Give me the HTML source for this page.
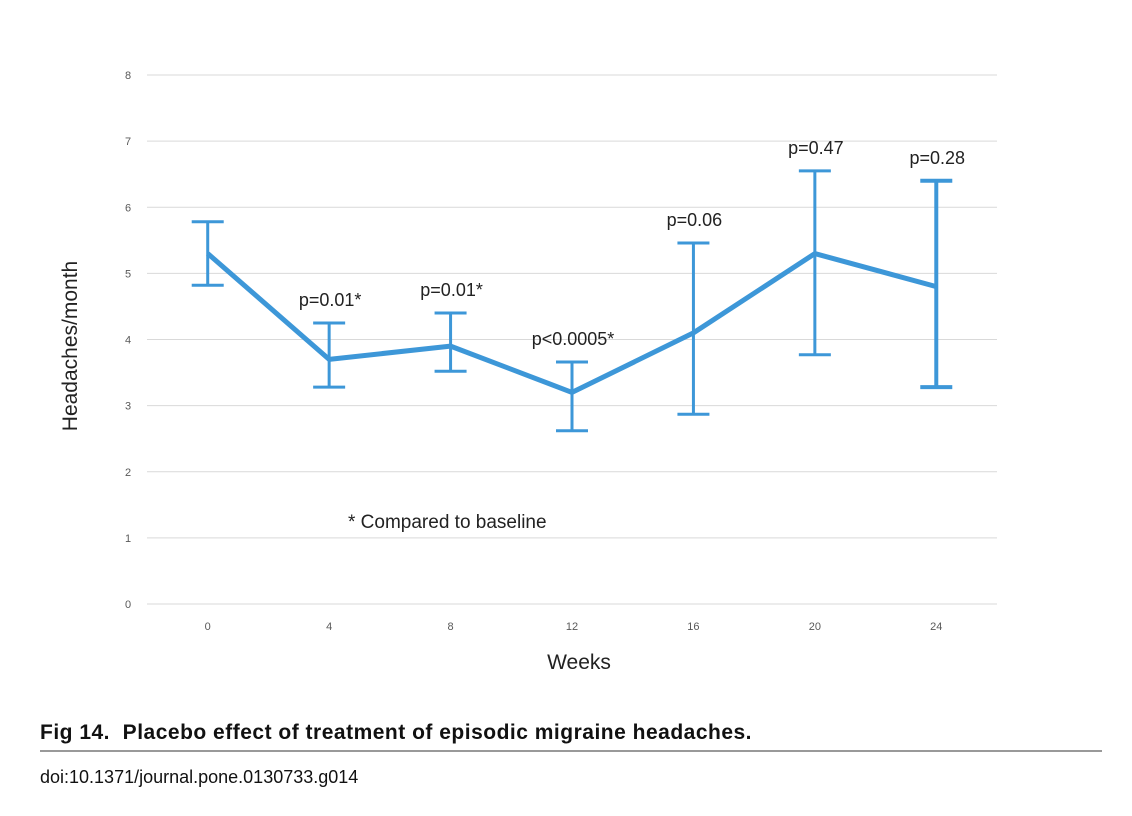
<!DOCTYPE html>
<html><head><meta charset="utf-8">
<style>
body{margin:0;background:#fff;width:1132px;height:816px;overflow:hidden;font-family:"Liberation Sans",sans-serif}
#cap{position:absolute;left:40px;top:721px;font-weight:bold;font-size:21px;color:#111;letter-spacing:0.5px}
#rule{position:absolute;left:40px;top:750px;width:1062px;height:2px;background:#999}
#doi{position:absolute;left:40px;top:767px;font-size:18px;color:#111}
</style></head><body>
<svg id="chart" width="1132" height="716" style="position:absolute;left:0;top:0"></svg>
<div id="cap">Fig 14.&nbsp; Placebo effect of treatment of episodic migraine headaches.</div>
<div id="rule"></div>
<div id="doi">doi:10.1371/journal.pone.0130733.g014</div>
<script>
const weeks=["0","4","8","12","16","20","24"];
const means=[5.3,3.7,3.9,3.2,4.1,5.3,4.8];
const upper=[5.78,4.25,4.40,3.66,5.46,6.55,6.40];
const lower=[4.82,3.28,3.52,2.62,2.87,3.77,3.28];
const pLabels=["","p=0.01*","p=0.01*","p<0.0005*","p=0.06","p=0.47","p=0.28"];
const yTicks=[0,1,2,3,4,5,6,7,8];
const NS="http://www.w3.org/2000/svg";
const svg=document.getElementById('chart');
const L=147,R=997,Y0=604,Y8=75;
const y=v=>Y0-(Y0-Y8)*v/8;
const bw=(R-L)/weeks.length;
const x=i=>L+bw*(i+0.5);
function mk(t,a,p){const e=document.createElementNS(NS,t);for(const k in a)e.setAttribute(k,a[k]);(p||svg).appendChild(e);return e;}
yTicks.forEach(t=>{
 const g=mk('line',{x1:L,x2:R,y1:y(t),y2:y(t),stroke:'#d9d9d9','stroke-width':1});
 
 
 const tx=mk('text',{x:128,y:y(t)+4,'font-size':11,fill:'#595959','text-anchor':'middle'});
 tx.textContent=t;
 
 
});
weeks.forEach((w,i)=>{
 const tx=mk('text',{x:x(i),y:630,'font-size':11,fill:'#595959','text-anchor':'middle'});
 tx.textContent=w;
 
 
});
weeks.forEach((w,i)=>{
 const st={stroke:'#3d97d8','stroke-width':i===6?4:3,fill:'none'};
 const g=mk('g',{});
 
 
 mk('line',Object.assign({x1:x(i),x2:x(i),y1:y(upper[i]),y2:y(lower[i])},st),g);
 mk('line',Object.assign({x1:x(i)-16,x2:x(i)+16,y1:y(upper[i]),y2:y(upper[i])},st),g);
 mk('line',Object.assign({x1:x(i)-16,x2:x(i)+16,y1:y(lower[i]),y2:y(lower[i])},st),g);
 if(pLabels[i]){
  const tx=mk('text',{x:x(i)+1,y:y(upper[i])-17,'font-size':18,fill:'#222','text-anchor':'middle'});
  tx.textContent=pLabels[i];
  
  
 }
});
const ln=mk('polyline',{points:means.map((v,i)=>x(i)+','+y(v)).join(' '),stroke:'#3d97d8','stroke-width':5,fill:'none','stroke-linejoin':'round'});


const note=mk('text',{x:348,y:528,'font-size':19,fill:'#222'});note.textContent='* Compared to baseline';


const xt=mk('text',{x:579,y:669,'font-size':21,fill:'#222','text-anchor':'middle'});xt.textContent='Weeks';


const yt=mk('text',{x:0,y:0,'font-size':21,fill:'#222','text-anchor':'middle',transform:'translate(77,346) rotate(-90)'});yt.textContent='Headaches/month';


</script>
</body></html>
